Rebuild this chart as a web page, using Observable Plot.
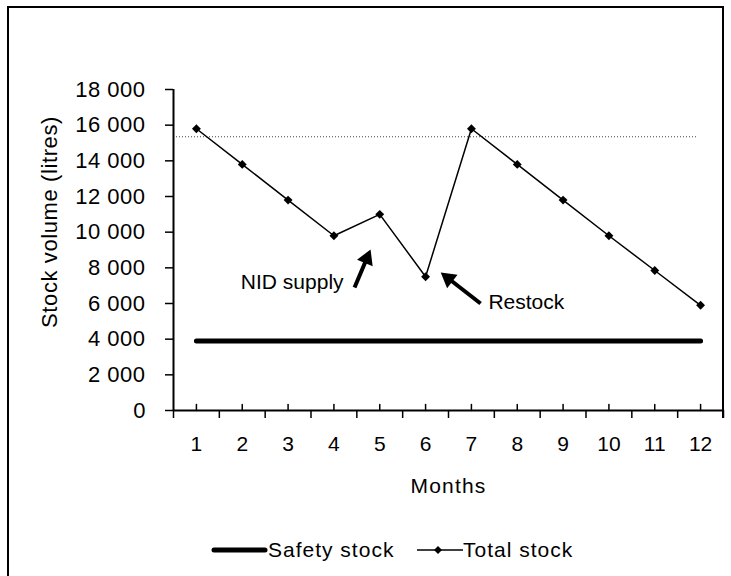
<!DOCTYPE html>
<html><head><meta charset="utf-8">
<script src="https://cdn.jsdelivr.net/npm/d3@7"></script>
<script src="https://cdn.jsdelivr.net/npm/@observablehq/plot@0.6"></script>
<style>
body{margin:0;background:#fff;}
#wrap{position:relative;width:731px;height:576px;overflow:hidden;font-family:"Liberation Sans",Arial,sans-serif;color:#000;}
#wrap svg{position:absolute;left:0;top:0;}
.bl{position:absolute;background:#000;}
.leg{position:absolute;font-size:21px;letter-spacing:1px;line-height:20px;white-space:nowrap;}
</style></head><body><div id="wrap"></div>
<script>
// ---- data ----
const months = [1,2,3,4,5,6,7,8,9,10,11,12];
const totalStock = [15800,13800,11800,9800,11000,7500,15800,13800,11800,9800,7850,5900];
const safetyStock = [3900,3900,3900,3900,3900,3900,3900,3900,3900,3900,3900,3900];
const yTicks = [0,2000,4000,6000,8000,10000,12000,14000,16000,18000];
const categoryBounds = [0.5,1.5,2.5,3.5,4.5,5.5,6.5,7.5,8.5,9.5,10.5,11.5,12.5];
const thresholdValue = [15350];
const thresholdSpan = [0.5, 11.93];
const noteLabels = ["NID supply", "Restock"];
const noteX = [4.21, 7.37];
const noteY = [7200, 6050];
const arrowTail = [[4.45, 6900], [7.20, 6000]];
const arrowTip = [[4.80, 9030], [6.33, 7740]];
const seriesNames = ["Safety stock", "Total stock"];
const yTitle = "Stock volume (litres)";
const xTitle = "Months";

const total = months.map((m,i) => ({month:m, value:totalStock[i]}));
const safety = months.map((m,i) => ({month:m, value:safetyStock[i]}));
const notes = noteLabels.map((t,i) => ({text:t, x:noteX[i], y:noteY[i]}));

const base = {
  width:731, height:576, marginLeft:173, marginRight:8, marginTop:89, marginBottom:166,
  x:{domain:[0.5,12.5]}, y:{domain:[0,18000]},
  style:{fontFamily:"'Liberation Sans', Arial, sans-serif", fontSize:"21px", color:"#000", background:"transparent"}
};
const probe = Plot.plot({...base, marks:[Plot.ruleY([0])]});
const sx = probe.scale("x"), sy = probe.scale("y");
const headBack = 9.8;
const heads = arrowTail.map((t,i) => {
  const [x1,y1] = t, [x2,y2] = arrowTip[i];
  const px1=sx.apply(x1), py1=sy.apply(y1), px2=sx.apply(x2), py2=sy.apply(y2);
  const L=Math.hypot(px2-px1,py2-py1), ux=(px2-px1)/L, uy=(py2-py1)/L;
  return {x1, y1, x:sx.invert(px2-ux*headBack), y:sy.invert(py2-uy*headBack), angle:Math.atan2(ux,-uy)*180/Math.PI};
});
const fmt = d => d3.format(",")(d).replace(/,/g, " ");
const tickShape = {draw(c,l){c.moveTo(0,0);c.lineTo(0,-l);}};

const chart = Plot.plot({
  ...base,
  marks:[
    Plot.ruleY(thresholdValue, {x1:thresholdSpan[0], x2:thresholdSpan[1], stroke:"#444", strokeWidth:1, strokeDasharray:"1,2"}),
    Plot.axisY(yTicks, {tickSize:8, tickPadding:20, tickFormat:fmt, strokeWidth:1.5, fill:"#000", fontSize:22}),
    Plot.axisX(categoryBounds, {tickSize:8, tickFormat:() => "", strokeWidth:1.5}),
    Plot.axisX(months, {tickSize:0, tickPadding:26, fill:"#000", fontSize:21}),
    Plot.vector(months, {x:d=>d, y:()=>0, length:6, anchor:"start", shape:tickShape, stroke:"#000", strokeWidth:1.5}),
    Plot.ruleX([0.5], {stroke:"#000", strokeWidth:2}),
    Plot.ruleY([0], {stroke:"#000", strokeWidth:2}),
    Plot.line(safety, {x:"month", y:"value", stroke:"#000", strokeWidth:5, strokeLinecap:"round"}),
    Plot.line(total, {x:"month", y:"value", stroke:"#000", strokeWidth:1.5}),
    Plot.dot(total, {x:"month", y:"value", symbol:"diamond2", r:4, fill:"#000", stroke:"none"}),
    Plot.link(heads, {x1:"x1", y1:"y1", x2:"x", y2:"y", stroke:"#000", strokeWidth:4}),
    Plot.dot(heads, {x:"x", y:"y", rotate:"angle", symbol:"triangle", r:6.3, fill:"#000", stroke:"none"}),
    Plot.text([notes[0]], {x:"x", y:"y", text:"text", textAnchor:"end", fill:"#000", fontSize:21}),
    Plot.text([notes[1]], {x:"x", y:"y", text:"text", textAnchor:"start", fill:"#000", fontSize:21}),
    Plot.text([yTitle], {frameAnchor:"left", textAnchor:"middle", dx:-124, dy:-28, rotate:-90, fill:"#000", fontSize:22}),
    Plot.text([xTitle], {frameAnchor:"bottom", dy:82, fill:"#000", fontSize:21})
  ]
});
// letter spacing tweaks
d3.select(chart).selectAll("text").each(function(){
  const t = this.textContent;
  if (t === yTitle) this.setAttribute("letter-spacing","0.6px");
  else if (t === xTitle) this.setAttribute("letter-spacing","1.2px");
  else if (/^\d{1,2} 000$/.test(t)) this.setAttribute("letter-spacing","0.5px");
});

const wrap = document.getElementById("wrap");
wrap.appendChild(chart);
// frame
function bl(l,t,w,h){const d=document.createElement("div");d.className="bl";Object.assign(d.style,{left:l+"px",top:t+"px",width:w+"px",height:h+"px"});wrap.appendChild(d);}
bl(7,6,2,570);
bl(7,6,717,2);
bl(722,6,2,412);
// legend
const leg = document.createElement("div");
leg.innerHTML = `
<svg style="position:absolute;left:211px;top:540px" width="58" height="20"><line x1="3" x2="54" y1="10" y2="10" stroke="#000" stroke-width="5" stroke-linecap="round"/></svg>
<div class="leg" style="left:268px;top:540px">${seriesNames[0]}</div>
<svg style="position:absolute;left:415px;top:540px" width="50" height="20"><line x1="2" x2="48" y1="10" y2="10" stroke="#000" stroke-width="1.5"/><path d="M23,6L27,10L23,14L19,10Z" fill="#000"/></svg>
<div class="leg" style="left:463px;top:540px">${seriesNames[1]}</div>`;
wrap.appendChild(leg);
</script></body></html>
